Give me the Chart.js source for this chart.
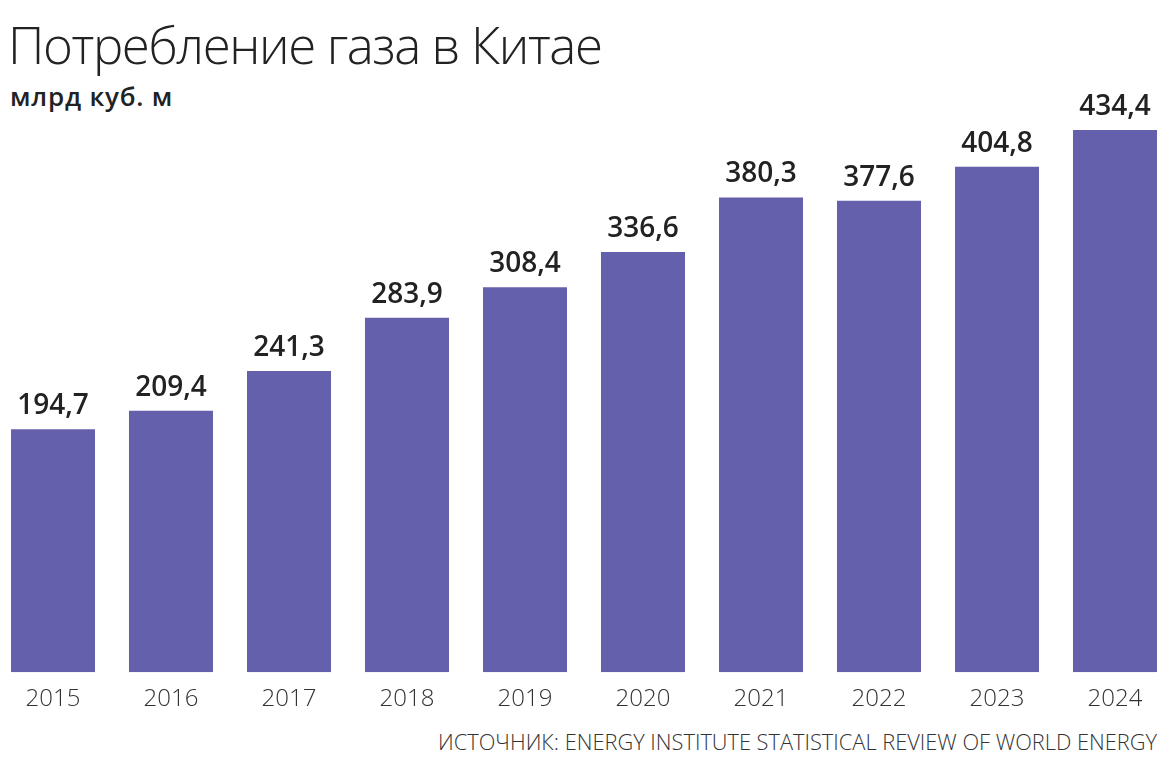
<!DOCTYPE html>
<html>
<head>
<meta charset="utf-8">
<script src="https://cdn.jsdelivr.net/npm/chart.js@4"></script>
<style>
  body { margin: 0; background: #fff; width: 1170px; height: 759px; overflow: hidden; position: relative; font-family: "Open Sans", sans-serif; }
  #title { position: absolute; left: 8px; top: 9px; font-size: 51px; font-weight: 300; color: #222; letter-spacing: -1.4px; }
  #unit { position: absolute; left: 10px; top: 78px; font-size: 26px; font-weight: 600; color: #222; letter-spacing: 0.8px; }
  #source { position: absolute; right: 13px; top: 727px; font-size: 21.8px; font-weight: 300; color: #333; }
  #wrap { position: absolute; left: -6px; top: 0; width: 1180px; height: 759px; }
</style>
</head>
<body>
<div id="title">Потребление газа в Китае</div>
<div id="unit">млрд куб. м</div>
<div id="source">ИСТОЧНИК: ENERGY INSTITUTE STATISTICAL REVIEW OF WORLD ENERGY</div>
<div id="wrap"><canvas id="gasChart"></canvas></div>
<script>
let years = ["2015", "2016", "2017", "2018", "2019", "2020", "2021", "2022", "2023", "2024"];
let consumption = [194.7, 209.4, 241.3, 283.9, 308.4, 336.6, 380.3, 377.6, 404.8, 434.4];

// подписи значений над столбиками
const valueLabels = {
    id: 'valueLabels',
    afterDatasetsDraw(chart) {
        let ctx = chart.ctx;
        let meta = chart.getDatasetMeta(0);
        ctx.save();
        ctx.font = '600 28px "Open Sans", sans-serif';
        ctx.fillStyle = '#222';
        ctx.textAlign = 'center';
        ctx.textBaseline = 'alphabetic';
        meta.data.forEach(function (bar, i) {
            let txt = consumption[i].toFixed(1).replace('.', ',');
            ctx.fillText(txt, bar.x, bar.y - 15);
        });
        ctx.restore();
    }
};

const G_data = {
    labels: years,
    datasets: [{
        data: consumption,
        backgroundColor: '#6560ab',
        borderWidth: 0,
        categoryPercentage: 1,
        barPercentage: 0.712
    }]
};

const G_config = {
    type: 'bar',
    data: G_data,
    options: {
        responsive: true,
        maintainAspectRatio: false,
        animation: false,
        layout: { padding: { top: 48, bottom: 40, left: 0, right: 0 } },
        plugins: {
            legend: { display: false },
            tooltip: { enabled: false }
        },
        scales: {
            x: {
                grid: { display: false },
                border: { display: false },
                ticks: {
                    color: '#333',
                    padding: 5,
                    font: { family: '"Open Sans", sans-serif', size: 24, weight: 300 }
                }
            },
            y: {
                display: false,
                min: 0,
                max: 500
            }
        }
    },
    plugins: [valueLabels]
};

var gasChart = new Chart(document.querySelector("#gasChart"), G_config);
</script>
</body>
</html>
